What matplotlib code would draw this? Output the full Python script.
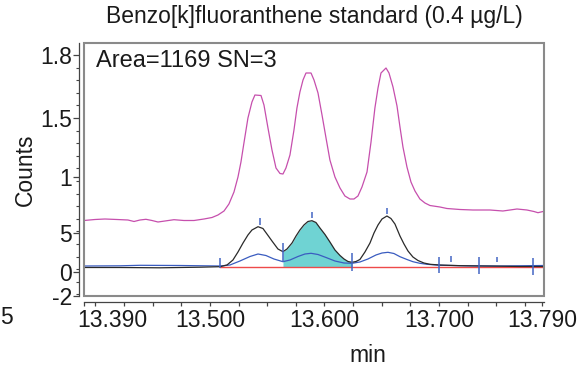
import numpy as np
import matplotlib
matplotlib.use("Agg")
import matplotlib.pyplot as plt
from matplotlib.patches import Rectangle
from matplotlib.transforms import ScaledTranslation

plt.rcParams['font.family'] = ['Liberation Sans', 'DejaVu Sans']

# Overlaid traces share one stacked display scale; the tick labels carry the
# per-trace count values.
ytick_pos = [0, 24, 63, 119, 178, 241]
ytick_labels = ["-2", "0", "5", "1", "1.5", "1.8"]
xtick_vals = [13.39, 13.5, 13.6, 13.7, 13.79]
xtick_labels = ["13.390", "13.500", "13.600", "13.700", "13.790"]

# Qualifier (magenta) trace
qual_t = [13.3900, 13.3996, 13.4083, 13.4188, 13.4284, 13.4337, 13.4389, 13.4441,
          13.4494, 13.4546, 13.4607, 13.4686, 13.4773, 13.4861, 13.4948, 13.5018,
          13.5070, 13.5123, 13.5166, 13.5210, 13.5245, 13.5271, 13.5297, 13.5332,
          13.5367, 13.5393, 13.5446, 13.5472, 13.5507, 13.5542, 13.5577, 13.5612,
          13.5638, 13.5664, 13.5699, 13.5734, 13.5760, 13.5786, 13.5813, 13.5839,
          13.5883, 13.5909, 13.5944, 13.5979, 13.6014, 13.6048, 13.6092, 13.6136,
          13.6179, 13.6223, 13.6258, 13.6293, 13.6328, 13.6372, 13.6407, 13.6441,
          13.6468, 13.6494, 13.6538, 13.6564, 13.6599, 13.6634, 13.6660, 13.6686,
          13.6721, 13.6756, 13.6791, 13.6834, 13.6878, 13.6922, 13.7009, 13.7070,
          13.7184, 13.7297, 13.7446, 13.7559, 13.7621, 13.7682, 13.7769, 13.7830,
          13.7865, 13.7917]
qual_y = [75.5, 76.5, 77, 76.5, 76, 74.5, 76, 76.7,
          75.5, 74, 75, 76.3, 75.5, 75.5, 77, 78.5,
          81, 85, 92, 104, 119, 134, 153, 178,
          194, 201, 200.5, 191, 168, 146, 128, 122.5,
          122, 128, 141, 166, 188, 204, 216, 223,
          223, 216, 203, 181, 158, 136, 119, 108,
          100, 97, 97, 100, 109, 124, 154, 188,
          208, 223, 228, 223, 209, 190, 169, 149,
          129, 114, 105, 97, 93, 90.5, 89, 87.5,
          86.5, 86, 86, 85, 86, 87, 86, 84.5,
          83.3, 84.7]

# Quantifier (black) trace
quant_t = [13.3900, 13.4214, 13.4564, 13.4913, 13.5088, 13.5149, 13.5201, 13.5245,
           13.5289, 13.5332, 13.5367, 13.5420, 13.5463, 13.5498, 13.5542, 13.5594,
           13.5638, 13.5673, 13.5717, 13.5752, 13.5786, 13.5821, 13.5856, 13.5891,
           13.5926, 13.5961, 13.6005, 13.6048, 13.6092, 13.6136, 13.6171, 13.6206,
           13.6241, 13.6276, 13.6310, 13.6354, 13.6398, 13.6433, 13.6468, 13.6503,
           13.6546, 13.6581, 13.6616, 13.6660, 13.6695, 13.6730, 13.6773, 13.6817,
           13.6869, 13.6922, 13.7009, 13.7184, 13.7359, 13.7533, 13.7708, 13.7917]
quant_y = [28.5, 28.5, 28.2, 28.8, 29.3, 31, 36, 44,
           53, 61, 66, 69.3, 67.5, 62, 55, 47,
           44.3, 47, 53, 60, 66, 71, 74.5, 75.3,
           73.5, 68, 61.5, 54, 46, 40.5, 37, 34.5,
           33.7, 34.5, 36.5, 44, 53, 63, 71, 77,
           80, 77.5, 72, 60, 52, 45, 39, 35.5,
           33, 31.7, 31, 30.3, 30, 29.8, 29.5, 29.5]

# Reference ion (blue) trace
ref_t = [13.3900, 13.4214, 13.4389, 13.4738, 13.5088, 13.5175, 13.5262, 13.5350,
         13.5420, 13.5489, 13.5559, 13.5638, 13.5699, 13.5769, 13.5830, 13.5883,
         13.5944, 13.6014, 13.6092, 13.6171, 13.6241, 13.6310, 13.6380, 13.6450,
         13.6503, 13.6555, 13.6607, 13.6660, 13.6721, 13.6773, 13.6834, 13.6896,
         13.7009, 13.7271, 13.7533, 13.7917]
ref_y = [30, 30.2, 30.7, 30.5, 30, 31, 35, 39.5,
         42, 40.5, 37, 34.3, 36, 39.5, 42, 42.7,
         41.5, 38.5, 35, 33, 32.7, 34, 37, 41,
         43, 43.7, 42.5, 39.3, 36.5, 34.3, 32.7, 31.7,
         30.7, 30.2, 30, 30.5]

# Integration baseline and the integrated peak window
base_t = [13.5088, 13.7917]
base_y = [29, 29]
peak_start, peak_end = 13.5638, 13.6241

# Apex markers and peak boundary markers (time, low, high)
apex_t = [13.5437, 13.5889, 13.6544, 13.7103, 13.7504]
apex_lo = [71, 78, 82, 34.3, 33.7]
apex_hi = [78, 84, 88, 40, 39.3]
bound_t = [13.5088, 13.5638, 13.6241, 13.7003, 13.7352, 13.7819]
bound_lo = [28, 34, 25, 22.7, 22, 21]
bound_hi = [38, 53, 43, 39.3, 39, 38]

fig = plt.figure(figsize=(5.84, 3.76), dpi=100)
ax = fig.add_axes([84 / 584, 80 / 376, 460 / 584, 253 / 376])

qt = np.array(quant_t)
qy = np.array(quant_y)
win = (qt >= peak_start - 1e-9) & (qt <= peak_end + 1e-9)
ax.fill_between(qt[win], 29, qy[win], color="#6fd3d3", lw=0, zorder=1)

ax.plot(qual_t, qual_y, color="#c64fad", lw=0.9, zorder=3)
ax.plot(base_t, base_y, color="#ee4a4a", lw=1.0, zorder=2)
ax.plot(ref_t, ref_y, color="#3a5cc0", lw=0.9, zorder=3)
ax.plot(quant_t, quant_y, color="#2a2a2a", lw=0.9, zorder=4)

ax.vlines(apex_t, apex_lo, apex_hi, color="#4466c4", lw=1.1, zorder=5)
ax.vlines(bound_t, bound_lo, bound_hi, color="#4466c4", lw=1.1, zorder=5)

ax.set_xlim(13.39, 13.7918)
ax.set_ylim(0, 253)

# Detached axis lines plus a grey frame around the plot area
for side in ("top", "right"):
    ax.spines[side].set_visible(False)
ax.spines["left"].set_position(("outward", 3.6))
ax.spines["bottom"].set_position(("outward", 4.3))
for side in ("left", "bottom"):
    ax.spines[side].set_color("#444444")
    ax.spines[side].set_linewidth(0.9)
ax.add_patch(Rectangle((0, 0), 1, 1, transform=ax.transAxes, fill=False,
                       edgecolor="#8a8a8a", lw=1.5, clip_on=False, zorder=6))

ax.set_yticks(ytick_pos)
ax.set_yticklabels(ytick_labels)
ax.set_yticks(np.arange(241, 0, -12.6), minor=True)
ax.set_xticks(xtick_vals)
ax.set_xticklabels(xtick_labels)
ax.set_xticks(np.arange(13.4, 13.78, 0.025), minor=True)
ax.tick_params(axis="both", which="both", direction="out", color="#444444",
               labelsize=16.5, labelcolor="#1a1a1a")
ax.tick_params(axis="y", which="major", length=4, width=0.9, pad=1)
ax.tick_params(axis="y", which="minor", length=2.2, width=0.8)
ax.tick_params(axis="x", which="both", length=3, width=0.9, pad=2)
first = ax.get_xticklabels()[0]
first.set_horizontalalignment("left")
first.set_transform(first.get_transform()
                    + ScaledTranslation(-0.07, 0, fig.dpi_scale_trans))

ax.text(0.025, 0.93, "Area=1169 SN=3", transform=ax.transAxes, fontsize=17,
        color="#1a1a1a", ha="left", va="center")

fig.text(314 / 584, 1 - 17 / 376, "Benzo[k]fluoranthene standard (0.4 µg/L)",
         fontsize=16.5, color="#1a1a1a", ha="center", va="center")
fig.text(25 / 584, 1 - 170 / 376, "Counts", rotation=90, fontsize=16.5,
         color="#1a1a1a", ha="center", va="center")
fig.text(368 / 584, 1 - 356 / 376, "min", fontsize=16.5, color="#1a1a1a",
         ha="center", va="center")
fig.text(0.5 / 584, 1 - 318 / 376, "5", fontsize=16.5, color="#1a1a1a",
         ha="left", va="center")

fig.savefig("out.png", dpi=100)
